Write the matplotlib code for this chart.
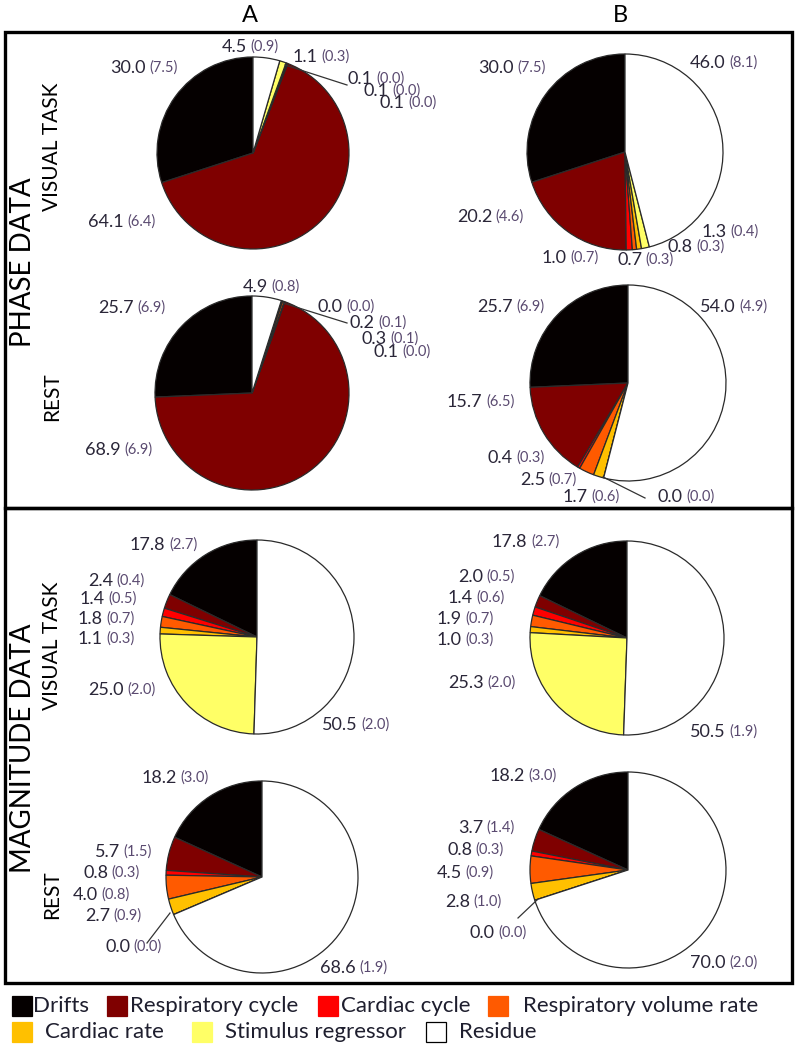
import matplotlib

matplotlib.use("Agg")
import matplotlib.pyplot as plt
from matplotlib.patches import Rectangle

W, H = 798, 1049  # figure size in pixels (dpi 100)
FONT = "Lato"

components = [
    "Drifts",
    "Respiratory cycle",
    "Cardiac cycle",
    "Respiratory volume rate",
    "Cardiac rate",
    "Stimulus regressor",
    "Residue",
]
colours = ["#050000", "#7f0000", "#ff0000", "#ff5a00", "#ffc000", "#ffff66", "#ffffff"]

# mean (sd) percentage of variance per component, in `components` order
phase_a_task = [30.0, 64.1, 0.1, 0.1, 0.1, 1.1, 4.5]
phase_a_task_sd = [7.5, 6.4, 0.0, 0.0, 0.0, 0.3, 0.9]
phase_a_rest = [25.7, 68.9, 0.1, 0.3, 0.2, 0.0, 4.9]
phase_a_rest_sd = [6.9, 6.9, 0.0, 0.1, 0.1, 0.0, 0.8]
phase_b_task = [30.0, 20.2, 1.0, 0.7, 0.8, 1.3, 46.0]
phase_b_task_sd = [7.5, 4.6, 0.7, 0.3, 0.3, 0.4, 8.1]
phase_b_rest = [25.7, 15.7, 0.4, 2.5, 1.7, 0.0, 54.0]
phase_b_rest_sd = [6.9, 6.5, 0.3, 0.7, 0.6, 0.0, 4.9]
mag_a_task = [17.8, 2.4, 1.4, 1.8, 1.1, 25.0, 50.5]
mag_a_task_sd = [2.7, 0.4, 0.5, 0.7, 0.3, 2.0, 2.0]
mag_b_task = [17.8, 2.0, 1.4, 1.9, 1.0, 25.3, 50.5]
mag_b_task_sd = [2.7, 0.5, 0.6, 0.7, 0.3, 2.0, 1.9]
mag_a_rest = [18.2, 5.7, 0.8, 4.0, 2.7, 0.0, 68.6]
mag_a_rest_sd = [3.0, 1.5, 0.3, 0.8, 0.9, 0.0, 1.9]
mag_b_rest = [18.2, 3.7, 0.8, 4.5, 2.8, 0.0, 70.0]
mag_b_rest_sd = [3.0, 1.4, 0.3, 0.9, 1.0, 0.0, 2.0]

# layout only: pie centre/radius (px) and where each slice label starts (px)
PIES = [
    (phase_a_task, phase_a_task_sd, (253, 153), 96,
     [(110, 68), (88, 222), (380, 103), (364, 91), (348, 79), (293, 57), (222, 47)]),
    (phase_a_rest, phase_a_rest_sd, (252, 393), 97,
     [(98, 308), (85, 450), (374, 352), (362, 339), (350, 323), (318, 307), (243, 287)]),
    (phase_b_task, phase_b_task_sd, (625, 152), 98,
     [(478, 68), (457, 217), (542, 258), (617, 260), (668, 247), (702, 232), (690, 63)]),
    (phase_b_rest, phase_b_rest_sd, (628, 383), 98,
     [(477, 307), (447, 402), (488, 458), (520, 480), (563, 497), (658, 497), (700, 307)]),
    (mag_a_task, mag_a_task_sd, (257, 637), 97,
     [(130, 545), (88, 581), (80, 599), (78, 619), (78, 639), (88, 690), (322, 725)]),
    (mag_b_task, mag_b_task_sd, (627, 638), 97,
     [(492, 542), (458, 577), (448, 598), (437, 619), (437, 640), (448, 683), (690, 732)]),
    (mag_a_rest, mag_a_rest_sd, (262, 877), 96,
     [(142, 778), (95, 852), (83, 873), (73, 895), (85, 916), (105, 947), (320, 968)]),
    (mag_b_rest, mag_b_rest_sd, (628, 870), 98,
     [(490, 776), (458, 828), (447, 850), (437, 873), (445, 902), (470, 933), (690, 963)]),
]
LEADERS = [
    ((285, 65), (347, 85)),
    ((283, 303), (347, 323)),
    ((603, 477), (645, 498)),
    ((170, 913), (147, 943)),
    ((537, 900), (518, 918)),
]
LEGEND_POS = [(12, 33, 1006), (107, 130, 1006), (318, 341, 1006), (488, 523, 1006),
              (12, 45, 1032), (192, 225, 1032), (426, 459, 1032)]

VAL_COLOR = "#2a2638"
SD_COLOR = "#5a4a70"


def _pie(fig, values, centre, r):
    cx, cy = centre
    pad = r + 3
    ax = fig.add_axes([(cx - pad) / W, 1 - (cy + pad) / H, 2 * pad / W, 2 * pad / H])
    ax.pie(values, colors=colours, startangle=90, counterclock=True,
           wedgeprops=dict(edgecolor="#2a2a2a", linewidth=0.9))
    lim = pad / r
    ax.set_xlim(-lim, lim)
    ax.set_ylim(-lim, lim)
    ax.axis("off")


def _label(ov, x, y, val, sd):
    t = ov.text(x, y, f"{val:.1f}", ha="left", va="center", fontsize=13,
                color=VAL_COLOR, family=FONT)
    ov.annotate(f"({sd:.1f})", xy=(1, 0), xycoords=t, xytext=(2.5, 1.2),
                textcoords="offset points", ha="left", va="bottom", fontsize=10.5,
                color=SD_COLOR, family=FONT)


def main():
    fig = plt.figure(figsize=(W / 100, H / 100), dpi=100)

    for values, _sd, centre, r, _pos in PIES:
        _pie(fig, values, centre, r)

    ov = fig.add_axes([0, 0, 1, 1])
    ov.set_xlim(0, W)
    ov.set_ylim(H, 0)
    ov.axis("off")
    ov.patch.set_visible(False)

    for values, sds, _c, _r, positions in PIES:
        for (x, y), v, s in zip(positions, values, sds):
            _label(ov, x, y, v, s)
    for (x0, y0), (x1, y1) in LEADERS:
        ov.plot([x0, x1], [y0, y1], color="#333333", lw=0.9)

    # panel boxes
    ov.add_patch(Rectangle((5, 32), 787, 476, fill=False, lw=2.4, ec="black"))
    ov.add_patch(Rectangle((5, 508), 787, 475, fill=False, lw=2.4, ec="black"))

    # column / row titles
    ov.text(250, 16, "A", ha="center", va="center", fontsize=17, family=FONT)
    ov.text(620, 16, "B", ha="center", va="center", fontsize=17, family=FONT)
    ov.text(23, 262, "PHASE DATA", rotation=90, ha="center", va="center", fontsize=20, family=FONT)
    ov.text(23, 748, "MAGNITUDE DATA", rotation=90, ha="center", va="center", fontsize=20, family=FONT)
    for y, s in [(147, "VISUAL TASK"), (397, "REST"), (646, "VISUAL TASK"), (895, "REST")]:
        ov.text(52, y, s, rotation=90, ha="center", va="center", fontsize=15, family=FONT)

    # legend
    for (sx, tx, y), name, col in zip(LEGEND_POS, components, colours):
        ov.add_patch(Rectangle((sx, y - 10), 20, 20, fc=col, ec="black" if col == "#ffffff" else col, lw=0.9))
        ov.text(tx, y, name, ha="left", va="center", fontsize=16, color="#1e1e2e", family=FONT)

    fig.savefig("out.png", dpi=100)


if __name__ == "__main__":
    main()
